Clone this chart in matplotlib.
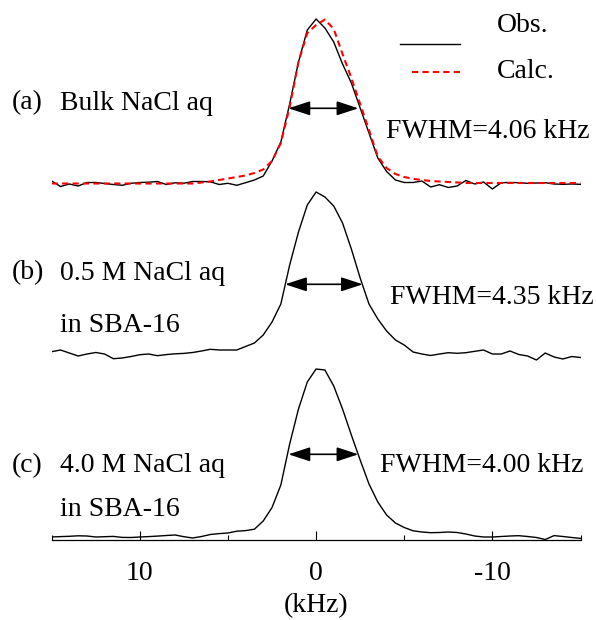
import numpy as np
import matplotlib
matplotlib.use("Agg")
import matplotlib.pyplot as plt
from matplotlib.lines import Line2D
from matplotlib.ticker import MultipleLocator

plt.rcParams['font.family'] = ['Liberation Serif', 'DejaVu Serif']
plt.rcParams['axes.unicode_minus'] = False

# frequency axis (kHz), 0.5 kHz steps from 15 to -15
freq = np.linspace(15, -15, 61)

# intensities (a.u.)
obs_a = [2, -3.5, -1, -3, 0.5, 0.5, -0.5, -1.5, -2.3, -0.3,
         0.5, 0.8, 1.5, -1.5, 0.2, -0.2, 1.5, 1.5, 1.2, -1.5,
         -0.3, -2.3, 0.3, 3, 7, 22, 41, 79, 121, 153,
         164, 155, 141, 119, 100, 75, 50, 25, 11.5, 3,
         0.5, 0.5, 2, -4, -1.7, -4.5, -3, 2.5, -1, 1,
         -6, 0.3, 0.5, 0.3, -0.3, 0, 0.3, -1, -1.3, -1, -1.3]

calc_a = [-0.5, -0.5, -0.5, -0.5, -0.5, -0.5, -0.5, -0.5, -0.5, -0.5,
          -0.5, -0.5, -0.5, -0.5, -0.5, -0.5, -0.5, 0.5, 1.5, 3,
          4.5, 6, 7.5, 10, 13.5, 22, 40, 76, 121, 150,
          158, 163.5, 154, 129, 105, 79, 53, 26.5, 15, 9,
          6, 4.2, 3, 2, 1.5, 1, 0.5, 0, 0, 0,
          0, 0, 0, 0, 0, 0, 0, 0, 0, 0, 0]

obs_b = [0.3, 2, -1, -4, -2, -0.5, -2, -6.7, -6, -4.5,
         -2.7, -2, -3.7, -2.6, -1.8, -1.4, -0.5, 1, 2.7, 2,
         2, 2, 5.5, 9, 17, 30, 48, 87, 120, 147,
         160, 155, 146, 129, 103, 74, 48, 33, 21, 12,
         7, 0, -2, -3.5, -2, -0.7, -1.3, -0.7, 0.7, 2,
         -2, -2, 1, -2.5, -4, -8, -1, -5, -7, -4.5, -5.5]

obs_c = [0, 0.4, 0.7, 1.2, 1, 0, 0.3, 0.6, -0.4, -0.5,
         0, 0.4, 0.9, 1.5, 2, 0.3, -1, 0.5, 2.5, 3.4,
         4, 5.8, 6.4, 7.8, 16, 29.5, 52, 93, 128, 155,
         168, 167, 151, 128, 102, 77, 53, 35, 22, 14,
         9.5, 6.2, 5, 4.3, 4.5, 5, 4.5, 3, 1, 0,
         0, 0.5, 1, 1.3, 0.5, -0.5, -2.5, 1.4, 0.5, -0.5, -1.4]

# vertical offsets of the stacked spectra
offsets = [357, 188, 3]

# FWHM markers
fwhm_left = [1.57, 1.76, 1.57]
fwhm_right = [-2.40, -2.65, -2.40]
fwhm_level = [74.7, 67.7, 82.7]
fwhm_text = ["FWHM=4.06 kHz", "FWHM=4.35 kHz", "FWHM=4.00 kHz"]

W, H = 596, 620
fig = plt.figure(figsize=(W / 100, H / 100), dpi=100)
ax = fig.add_axes([51.7 / W, 80 / H, (580.5 - 51.7) / W, 530 / H])

ax.plot(freq, np.array(obs_a) + offsets[0], color='black', lw=1.0)
ax.plot(freq, np.array(calc_a) + offsets[0], color='red', lw=1.5, dashes=(3, 2))
ax.plot(freq, np.array(obs_b) + offsets[1], color='black', lw=1.0)
ax.plot(freq, np.array(obs_c) + offsets[2], color='black', lw=1.0)

for i in range(3):
    y = fwhm_level[i] + offsets[i]
    ax.annotate('', xy=(fwhm_right[i], y), xytext=(fwhm_left[i], y),
                arrowprops=dict(arrowstyle='<|-|>,head_length=0.55,head_width=0.18',
                                mutation_scale=24, color='black', lw=1.2,
                                shrinkA=0, shrinkB=0))

ax.set_xlim(15, -15)
ax.set_ylim(0, 530)
ax.xaxis.set_major_locator(MultipleLocator(10))
ax.xaxis.set_minor_locator(MultipleLocator(5))
ax.tick_params(axis='x', which='major', direction='in', length=6.5, width=0.8,
               labelsize=20, pad=15)
ax.tick_params(axis='x', which='minor', direction='in', length=3.6, width=0.8)
ax.set_yticks([])
for s in ['top', 'left', 'right']:
    ax.spines[s].set_visible(False)
ax.spines['bottom'].set_linewidth(0.9)
ax.set_xlabel('(kHz)', fontsize=20, labelpad=5)

fs = 20
def ftext(x, y, s, **kw):
    fig.text(x / W, 1 - y / H, s, fontsize=fs, va='center', **kw)

ftext(12, 103, '(a)')
ftext(60, 103, 'Bulk NaCl aq')
ftext(386, 131, fwhm_text[0])
ftext(12, 273, '(b)')
ftext(60, 273, '0.5 M NaCl aq')
ftext(60, 325, 'in SBA-16')
ftext(390, 297, fwhm_text[1])
ftext(12, 466, '(c)')
ftext(60, 466, '4.0 M NaCl aq')
ftext(60, 510, 'in SBA-16')
ftext(380, 465, fwhm_text[2])

# legend
ftext(497, 25, 'Obs.')
ftext(497, 72, 'Calc.')
fig.add_artist(Line2D([400 / W, 460 / W], [1 - 44 / H, 1 - 44 / H], color='black', lw=1.0))
fig.add_artist(Line2D([412 / W, 462 / W], [1 - 72 / H, 1 - 72 / H], color='red', lw=1.5, dashes=(3, 2)))

fig.savefig('out.png', dpi=100)
